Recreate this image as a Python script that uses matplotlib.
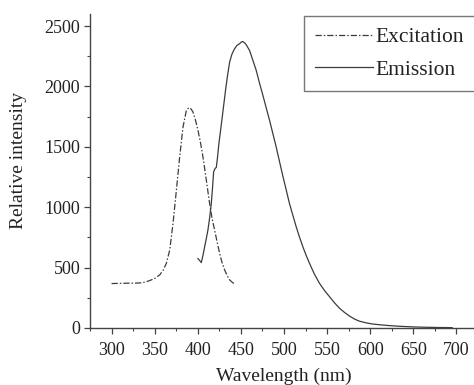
import numpy as np
import matplotlib
matplotlib.use('Agg')
import matplotlib.pyplot as plt
from matplotlib.ticker import MultipleLocator

# excitation spectrum
exc_wl = [300, 310, 320, 329, 334, 339, 344.3, 350, 355.9, 360, 363.6, 367.5,
          371.3, 375.2, 379, 382.9, 386.8, 389.8, 392, 394.4, 397, 400.2, 403,
          406, 409.9, 413.7, 416.5, 419.5, 422.5, 425.3, 428, 431.1, 434,
          436.9, 440, 442.7]
exc_int = [368, 370, 371, 372, 374, 380, 393, 410, 440, 480, 537, 647,
           867, 1142, 1417, 1665, 1803, 1825, 1815, 1789, 1730, 1638, 1540,
           1417, 1225, 1032, 910, 812, 710, 619, 545, 482, 435,
           399, 378, 366]

# emission spectrum
em_wl = [400.2, 402, 404.1, 406, 408, 410, 411.8, 413.8, 415.7, 417.2, 418.4,
         420, 421.5, 423, 424.5, 426.5, 428.4, 430.5, 432.5, 434.5, 436.9,
         439.5, 442.7, 445.5, 448.5, 450.5, 452.3, 454.5, 456.2, 460, 463.5,
         467.8, 471.5, 475.4, 479.3, 483.2, 487, 490.9, 494.8, 498.6, 502.5,
         506.3, 510.2, 514.1, 518, 521.8, 525.6, 529.5, 535, 541, 546.8,
         552.6, 558.4, 564.2, 570, 575.7, 581.5, 587.3, 595, 602.7, 612,
         622, 635, 650, 665, 680, 695]
em_int = [575, 560, 542, 600, 674, 745, 812, 915, 1032, 1170, 1294,
          1320, 1330, 1420, 1528, 1640, 1748, 1870, 1985, 2090, 2200,
          2265, 2313, 2340, 2354, 2368, 2372, 2360, 2345, 2299, 2225,
          2133, 2030, 1930, 1825, 1721, 1612, 1500, 1378, 1260, 1145,
          1032, 935, 839, 752, 674, 603, 537, 450, 372, 312,
          261, 210, 165, 130, 100, 75, 57, 43, 33, 26,
          20, 14, 9, 6, 4, 3]

plt.rcParams['font.family'] = ['Liberation Serif', 'DejaVu Serif']

fig = plt.figure(figsize=(4.74, 3.85), dpi=100)
ax = fig.add_axes([90/474, 57/385, 388/474, 314/385])

line_col = '#3c3c3c'
ax.plot(exc_wl, exc_int, color=line_col, lw=0.9,
        linestyle=(0, (5, 1.6, 1.2, 1.6)), label='Excitation')
ax.plot(em_wl, em_int, color=line_col, lw=0.9, label='Emission')

ax.set_xlim(275, 725)
ax.set_ylim(0, 2600)
ax.xaxis.set_minor_locator(MultipleLocator(25))
ax.yaxis.set_major_locator(MultipleLocator(500))
ax.yaxis.set_minor_locator(MultipleLocator(250))
ax.set_xticks(np.arange(300, 701, 50))

for s in ['top', 'right']:
    ax.spines[s].set_visible(False)
for s in ['left', 'bottom']:
    ax.spines[s].set_color('#444444')
    ax.spines[s].set_linewidth(1.0)

ax.tick_params(which='major', direction='out', length=4, width=0.9,
               color='#444444', labelsize=13, labelcolor='#222222')
ax.tick_params(which='minor', direction='out', length=2.5, width=0.8,
               color='#444444')
ax.tick_params(axis='x', which='major', pad=6)
ax.tick_params(axis='y', which='major', pad=3)

ax.set_xlabel('Wavelength (nm)', fontsize=14, color='#222222', labelpad=6)
ax.set_ylabel('Relative intensity', fontsize=14, color='#222222')
ax.yaxis.set_label_coords(-0.162, 0.535)

leg = fig.legend(loc='upper left',
                 bbox_to_anchor=(304/474, 1 - 16/385 - 0.01, 0.4, 0.01),
                 mode='expand', fontsize=15.5, frameon=True, fancybox=False,
                 handlelength=2.7, handletextpad=0.1, labelspacing=0.59,
                 borderpad=0.51, borderaxespad=0)
leg.get_frame().set_edgecolor('#555555')
leg.get_frame().set_linewidth(1.0)
for t in leg.get_texts():
    t.set_color('#222222')

fig.savefig('out.png', dpi=100)
